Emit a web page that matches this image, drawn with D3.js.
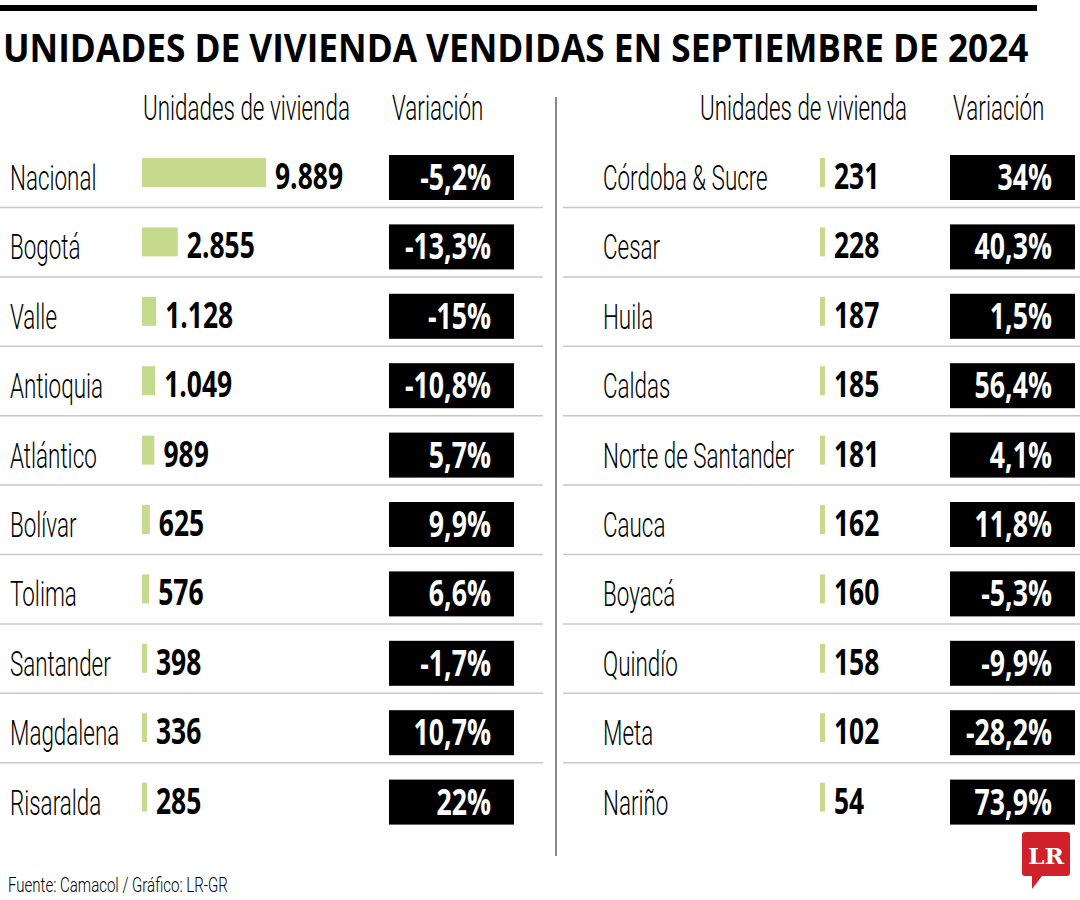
<!DOCTYPE html>
<html><head><meta charset="utf-8">
<script src="https://cdn.jsdelivr.net/npm/d3@7"></script>
<style>html,body{margin:0;padding:0;background:#fff;}svg{display:block;}</style>
</head><body>
<svg id="chart" width="1080" height="900"></svg>
<script>
const titleText = "UNIDADES DE VIVIENDA VENDIDAS EN SEPTIEMBRE DE 2024";
const headerUnits = "Unidades de vivienda";
const headerVar = "Variación";
const sourceText = "Fuente: Camacol / Gráfico: LR-GR";

const leftCategories = ["Nacional","Bogotá","Valle","Antioquia","Atlántico","Bolívar","Tolima","Santander","Magdalena","Risaralda"];
const leftUnits = [9889,2855,1128,1049,989,625,576,398,336,285];
const leftVariation = [-5.2,-13.3,-15,-10.8,5.7,9.9,6.6,-1.7,10.7,22];

const rightCategories = ["Córdoba & Sucre","Cesar","Huila","Caldas","Norte de Santander","Cauca","Boyacá","Quindío","Meta","Nariño"];
const rightUnits = [231,228,187,185,181,162,160,158,102,54];
const rightVariation = [34,40.3,1.5,56.4,4.1,11.8,-5.3,-9.9,-28.2,73.9];

const svg = d3.select("#chart");
const LIGHT = "Roboto, 'Open Sans', 'DejaVu Sans', sans-serif";
const BOLD = "'Open Sans', Roboto, 'DejaVu Sans', sans-serif";
const GREEN = "#c6da8e";

const loc = d3.formatLocale({decimal:",", thousands:".", grouping:[3], currency:["",""]});
const fmtUnits = loc.format(",d");
const fmtPct = v => (Number.isInteger(v) ? String(v) : v.toFixed(1).replace(".", ",")) + "%";

function measure(text, size, weight, family){
  const t = svg.append("text").attr("font-size", size).attr("font-weight", weight).attr("font-family", family).text(text);
  const w = t.node().getComputedTextLength();
  t.remove();
  return w;
}
const kLight = 207 / measure(headerUnits, 35, 300, LIGHT);
const kNum = 68 / measure("9.889", 36, 700, BOLD);
const kBox = 86 / measure("-13,3%", 36, 700, BOLD);
const kTitle = 1026 / measure(titleText, 40, 700, BOLD);

function ctext(g, text, x, y, size, weight, family, k, anchor, fill){
  return g.append("text")
    .attr("transform", `translate(${x},${y}) scale(${k},1)`)
    .attr("font-size", size).attr("font-weight", weight).attr("font-family", family)
    .attr("text-anchor", anchor || "start").attr("fill", fill || "#000")
    .text(text);
}

// top rule
svg.append("rect").attr("x", 0).attr("y", 5).attr("width", 1037).attr("height", 6).attr("fill", "#000");

// title
ctext(svg, titleText, 3, 62, 40, 700, BOLD, kTitle);

// vertical divider
svg.append("line").attr("x1", 556).attr("x2", 556).attr("y1", 97).attr("y2", 856)
  .attr("stroke", "#8a8a8a").attr("stroke-width", 2);

// shared scales
const STEP = 69.4, BAND = 45, N = 10;
const y = d3.scaleBand().domain(d3.range(N))
  .range([155, 155 + (N - 1) * STEP + BAND])
  .paddingInner((STEP - BAND) / STEP).paddingOuter(0).align(0);
const x = d3.scaleLinear().domain([0, d3.max(leftUnits)]).range([0, 124]);

function drawColumn(cfg){
  const g = svg.append("g");
  ctext(g, headerUnits, cfg.headX, 120, 35, 300, LIGHT, kLight);
  ctext(g, headerVar, cfg.boxX + 3, 120, 35, 300, LIGHT, kLight);

  const data = cfg.cats.map((c, i) => ({c, u: cfg.units[i], v: cfg.vars[i], i}));
  const bh = y.bandwidth();
  data.slice(0, -1).forEach(d => {
    const ly = y(d.i) + bh + 7.5;
    g.append("line").attr("x1", cfg.lineX1).attr("x2", cfg.lineX2).attr("y1", ly).attr("y2", ly)
      .attr("stroke", "#c8c8c8").attr("stroke-width", 1.5);
  });
  data.forEach(d => {
    const top = y(d.i);
    ctext(g, d.c, cfg.labelX, top + 35, 35, 300, LIGHT, kLight);
    const w = Math.max(5, x(d.u));
    g.append("rect").attr("x", cfg.barX).attr("y", top + 3).attr("width", w).attr("height", 29).attr("fill", GREEN);
    ctext(g, fmtUnits(d.u), cfg.barX + w + 9, top + 34, 36, 700, BOLD, kNum);
    g.append("rect").attr("x", cfg.boxX).attr("y", top).attr("width", 125).attr("height", bh).attr("fill", "#000");
    ctext(g, fmtPct(d.v), cfg.boxX + 102, top + 35, 36, 700, BOLD, kBox, "end", "#fff");
  });
}

drawColumn({cats:leftCategories, units:leftUnits, vars:leftVariation, labelX:10, headX:143, barX:142, boxX:389, lineX1:0, lineX2:543});
drawColumn({cats:rightCategories, units:rightUnits, vars:rightVariation, labelX:603, headX:700, barX:820, boxX:950, lineX1:563, lineX2:1080});

// source
const kSrc = 220 / measure(sourceText, 21, 300, LIGHT);
ctext(svg, sourceText, 8, 892, 21, 300, LIGHT, kSrc);

// LR logo
const logo = svg.append("g");
logo.append("path")
  .attr("d", "M1025,832 H1067 Q1070,832 1070,835 V873 Q1070,876 1067,876 H1042 L1032,889 L1032,876 H1025 Q1022,876 1022,873 V835 Q1022,832 1025,832 Z")
  .attr("fill", "#d0212a");
logo.append("text").attr("x", 1046).attr("y", 864).attr("text-anchor", "middle")
  .attr("font-family", "'DejaVu Serif', 'Liberation Serif', serif").attr("font-weight", 700).attr("font-size", 22)
  .attr("fill", "#fff").attr("textLength", 36).attr("lengthAdjust", "spacingAndGlyphs").text("LR");
</script>
</body></html>
